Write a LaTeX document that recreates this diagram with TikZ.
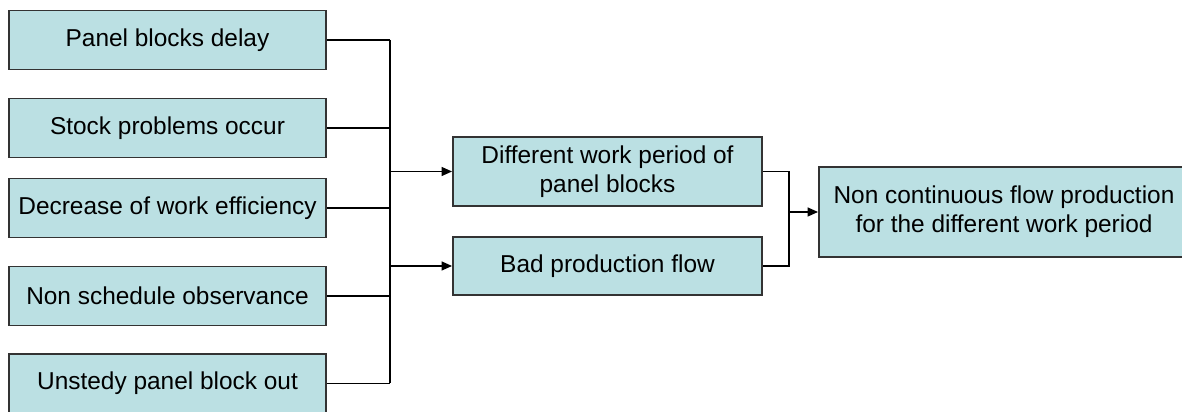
\documentclass[tikz,border=0pt]{standalone}
\usepackage{fontspec}
\setmainfont{Liberation Sans}
\usetikzlibrary{arrows.meta}
\definecolor{boxfill}{RGB}{187,224,227}

\begin{document}
\begin{tikzpicture}[>={Triangle[length=0.21cm,width=0.18cm]},
  cause/.style={draw=black!80,line width=1.1pt,fill=boxfill,align=center,
    inner sep=0pt,font=\fontsize{13.9}{16.5}\selectfont},
  link/.style={line width=0.85pt}]
  \clip (0,0) rectangle (23.64,8.24);
  % causes
  \node[cause,minimum width=6.34cm,minimum height=1.18cm] (delay) at (3.35,7.44) {Panel blocks delay};
  \node[cause,minimum width=6.34cm,minimum height=1.18cm] (stock) at (3.35,5.68) {Stock problems occur};
  \node[cause,minimum width=6.34cm,minimum height=1.18cm] (effic) at (3.35,4.08) {Decrease of work efficiency};
  \node[cause,minimum width=6.34cm,minimum height=1.18cm] (sched) at (3.35,2.32) {Non schedule observance};
  \node[cause,minimum width=6.34cm,minimum height=1.18cm] (unsteady) at (3.35,0.57) {Unstedy panel block out};
  % effects
  \node[cause,minimum width=6.18cm,minimum height=1.38cm] (period) at (12.15,4.81) {Different work period of\\panel blocks};
  \node[cause,minimum width=6.18cm,minimum height=1.16cm] (badflow) at (12.15,2.92) {Bad production flow};
  \node[cause,minimum width=7.4cm,minimum height=1.8cm] (result) at (20.08,4.0) {Non continuous flow production\\for the different work period};
  \coordinate (jx) at (7.8,0);
  \coordinate (jy) at (15.78,0);
  % left bus
  \foreach \n in {delay,stock,effic,sched,unsteady}
    \draw[link] (\n.east) -- (\n.east -| jx);
  \draw[link] (delay.east -| jx) -- (unsteady.east -| jx);
  \draw[link,->] (period.west -| jx) -- (period.west);
  \draw[link,->] (badflow.west -| jx) -- (badflow.west);
  % right bus
  \draw[link] (period.east) -| (jy |- badflow.east) -- (badflow.east);
  \draw[link,->] (result.west -| jy) -- (result.west);
\end{tikzpicture}
\end{document}
